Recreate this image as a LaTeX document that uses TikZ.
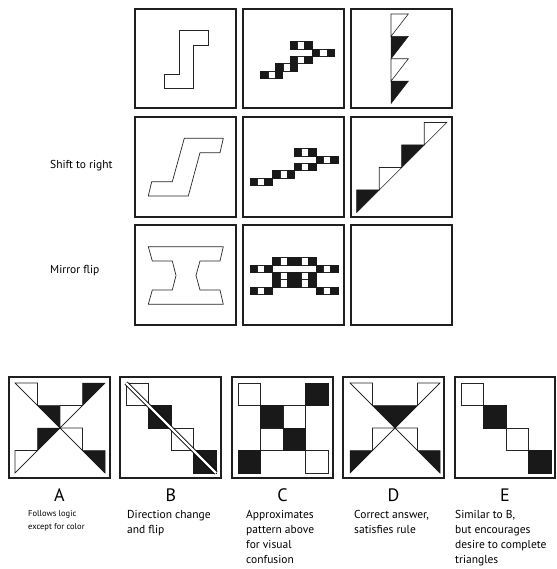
\documentclass[tikz,border=0pt]{standalone}
\usepackage{fontspec}
\setmainfont{PT Sans}
\begin{document}
\begin{tikzpicture}[x=1pt,y=-1pt,
  frame/.style={draw=black!88, line width=1.8pt},
  outline/.style={draw=black!85, line width=0.7pt, fill=white},
  blk/.style={fill=black!90, draw=black!90, line width=0.5pt},
  wht/.style={fill=white, draw=black!85, line width=0.6pt},
  thin/.style={draw=black!90, line width=0.6pt},
  letter/.style={font=\fontsize{18}{18}\selectfont, inner sep=0pt},
  note/.style={font=\fontsize{11.5}{15}\selectfont, align=left, anchor=north west, inner sep=0pt},
  smallnote/.style={font=\fontsize{8.5}{13.5}\selectfont, align=left, anchor=north west, inner sep=0pt},
  rowlabel/.style={font=\fontsize{11.5}{13}\selectfont, anchor=west, inner sep=0pt},
]
\useasboundingbox (0,0) rectangle (556,569);

% black-white-black strip of three small squares, top-left corner given
\newcommand{\bwb}[2]{%
  \draw[blk] (#1,#2) rectangle ++(7.33,7.33);
  \draw[wht] (#1+7.33,#2) rectangle ++(7.33,7.33);
  \draw[blk] (#1+14.66,#2) rectangle ++(7.33,7.33);}
% right triangles in a grid cell of 22.5: corner at top right / top left
\newcommand{\tne}[3]{\draw[#3] (#1*22.5,#2*22.5) -- ++(22.5,0) -- ++(0,22.5) -- cycle;}
\newcommand{\tnw}[3]{\draw[#3] (#1*22.5,#2*22.5) -- ++(22.5,0) -- ++(-22.5,22.5) -- cycle;}
\newcommand{\sqc}[3]{\draw[#3] (#1*22.5,#2*22.5) rectangle ++(22.5,22.5);}

% ---------- 3x3 matrix ----------
\draw[frame] (135,9) rectangle (236,108);
\draw[frame] (243,9) rectangle (344,108);
\draw[frame] (351,9) rectangle (452,108);
\draw[frame] (135,117) rectangle (236,217);
\draw[frame] (243,117) rectangle (344,217);
\draw[frame] (351,117) rectangle (452,217);
\draw[frame] (135,225) rectangle (236,325);
\draw[frame] (243,225) rectangle (344,325);
\draw[frame] (351,225) rectangle (452,325);

\node[rowlabel] (lshift) at (50,166) {Shift to right};
\node[rowlabel] (lmirror) at (50,271) {Mirror flip};

% column 1: step outline
\draw[outline] (179,30.7) -- (208.3,30.7) -- (208.3,45) -- (193.3,45) -- (193.3,88.3)
  -- (164.3,88.3) -- (164.3,74) -- (179,74) -- cycle;
\draw[outline] (184.3,138.3) -- (223.3,138.3) -- (220,152.7) -- (200,152.7) -- (188.3,196)
  -- (148.3,196) -- (151.7,181.7) -- (172.3,181.7) -- cycle;
\draw[outline] (148.3,246.7) -- (223.3,246.7) -- (220,261) -- (200,261) -- (196,275.5)
  -- (200,290) -- (220,290) -- (223.3,304.3) -- (148.3,304.3) -- (152.3,290)
  -- (172.3,290) -- (176,275.5) -- (172.3,261) -- (152.3,261) -- cycle;

% column 2: chequered strips
\bwb{260.7}{71}
\bwb{275.7}{63.7}
\bwb{290}{56.4}
\bwb{312.3}{49}
\bwb{290}{41.7}

\bwb{250}{178}
\bwb{272.7}{170.7}
\bwb{294}{163.3}
\bwb{316}{156}
\bwb{294}{148.7}

\bwb{272.7}{257.7}
\bwb{294}{257.7}
\bwb{250}{265}
\bwb{316}{265}
\bwb{272.7}{272.3}
\bwb{294}{272.3}
\bwb{272.7}{279.6}
\bwb{294}{279.6}
\bwb{250}{286.9}
\bwb{316}{286.9}

% column 3: triangles
\draw[wht] (391,14) -- ++(17.3,0) -- ++(-17.3,22.4) -- cycle;
\draw[blk] (391,36.4) -- ++(17.3,0) -- ++(-17.3,22.4) -- cycle;
\draw[wht] (391,58.8) -- ++(17.3,0) -- ++(-17.3,22.4) -- cycle;
\draw[blk] (391,81.2) -- ++(17.3,0) -- ++(-17.3,22.4) -- cycle;

\draw[blk] (356.7,190) -- ++(22.5,0) -- ++(-22.5,22.5) -- cycle;
\draw[wht] (379.2,167.5) -- ++(22.5,0) -- ++(-22.5,22.5) -- cycle;
\draw[blk] (401.7,145) -- ++(22.5,0) -- ++(-22.5,22.5) -- cycle;
\draw[wht] (424.2,122.5) -- ++(22.5,0) -- ++(-22.5,22.5) -- cycle;

% ---------- answer choices ----------
\draw[frame] (9,377) rectangle (110,478);
\draw[frame] (120,377) rectangle (221,478);
\draw[frame] (232,377) rectangle (333,478);
\draw[frame] (343,377) rectangle (444,478);
\draw[frame] (455,377) rectangle (555,478);

% A
\begin{scope}[shift={(15,383)}]
  \tne{0}{0}{wht} \tne{1}{1}{blk} \tnw{3}{0}{blk} \tnw{2}{1}{wht}
  \tnw{1}{2}{blk} \tnw{0}{3}{wht} \tne{2}{2}{wht} \tne{3}{3}{blk}
  \draw[thin] (0,0) -- (90,90);
  \draw[thin] (90,0) -- (0,90);
\end{scope}
% B
\begin{scope}[shift={(126,383)}]
  \sqc{0}{0}{wht} \sqc{1}{1}{blk} \sqc{2}{2}{wht} \sqc{3}{3}{blk}
  \draw[black, line width=4.2pt] (0,0) -- (90,90);
  \draw[white, line width=2.4pt] (0,0) -- (90,90);
\end{scope}
% C
\begin{scope}[shift={(238,383)}]
  \sqc{0}{0}{wht} \sqc{3}{0}{blk} \sqc{1}{1}{blk} \sqc{2}{1}{wht}
  \sqc{1}{2}{wht} \sqc{2}{2}{blk} \sqc{0}{3}{blk} \sqc{3}{3}{wht}
\end{scope}
% D
\begin{scope}[shift={(350,383)}]
  \tne{0}{0}{wht} \tne{1}{1}{blk} \tnw{3}{0}{wht} \tnw{2}{1}{blk}
  \tnw{1}{2}{wht} \tne{2}{2}{wht} \tnw{0}{3}{blk} \tne{3}{3}{blk}
  \draw[thin] (0,0) -- (90,90);
  \draw[thin] (90,0) -- (0,90);
\end{scope}
% E
\begin{scope}[shift={(461,383)}]
  \sqc{0}{0}{wht} \sqc{1}{1}{blk} \sqc{2}{2}{wht} \sqc{3}{3}{blk}
\end{scope}

\node[letter] (la) at (59.5,495) {A};
\node[letter] (lb) at (171,495) {B};
\node[letter] (lc) at (282.5,495) {C};
\node[letter] (ld) at (393.5,495) {D};
\node[letter] (le) at (505,495) {E};

\node[smallnote] (ta) at (28,510) {Follows logic\\except for color};
\node[note] (tb) at (127,510) {Direction change\\and flip};
\node[note] (tc) at (246,510) {Approximates\\pattern above\\for visual\\confusion};
\node[note] (td) at (354,510) {Correct answer,\\satisfies rule};
\node[note] (te) at (455,510) {Similar to B,\\but encourages\\desire to complete\\triangles};
\end{tikzpicture}
\end{document}
